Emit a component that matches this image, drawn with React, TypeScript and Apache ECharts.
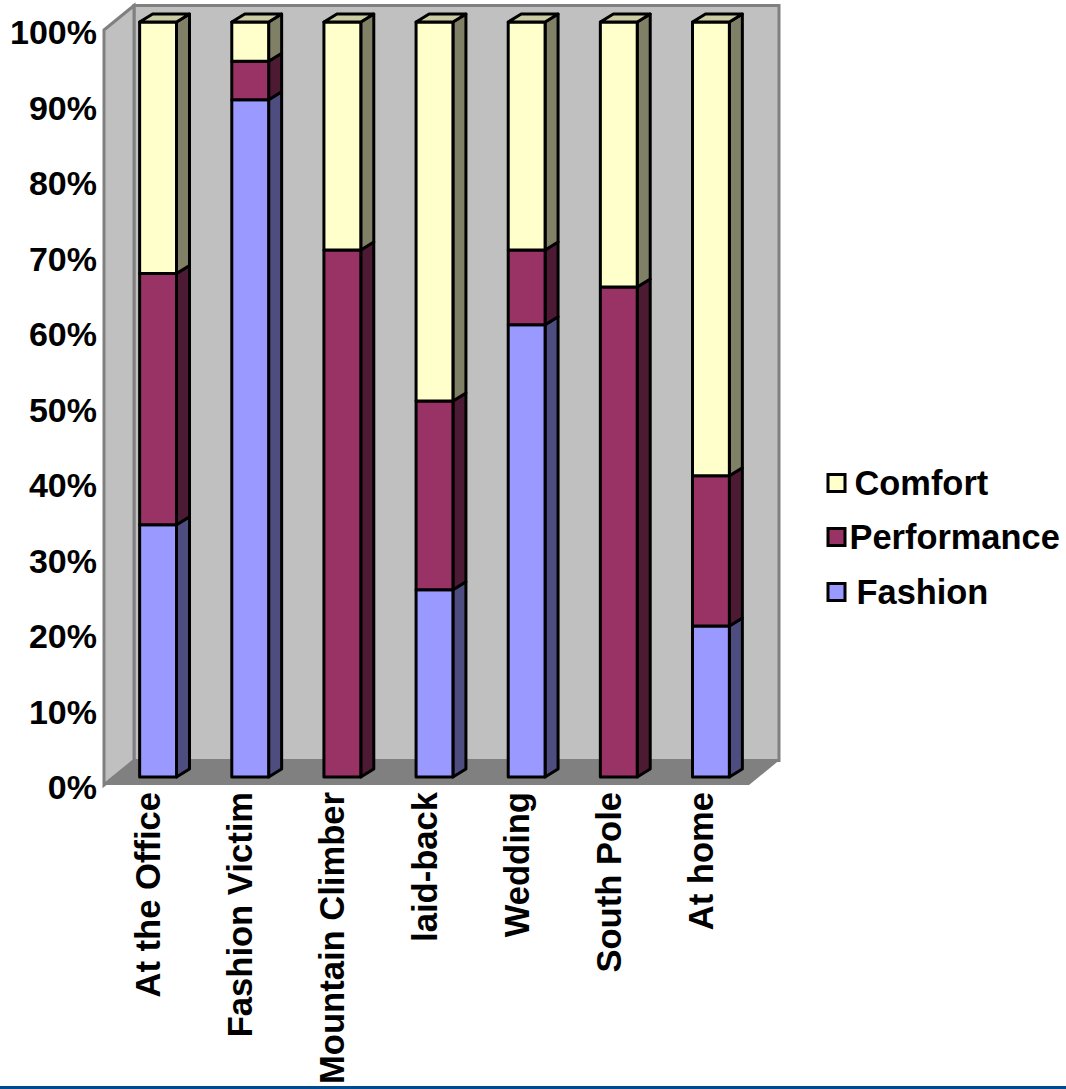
import React, { useEffect, useRef } from "react";
import * as echarts from "echarts";

const categories = ["At the Office", "Fashion Victim", "Mountain Climber", "laid-back", "Wedding", "South Pole", "At home"];
const fashionValues = [33.4, 89.7, 0, 24.8, 59.9, 0, 20];
const performanceValues = [33.3, 5.1, 69.8, 25, 9.9, 64.9, 19.9];
const comfortValues = [33.3, 5.2, 30.2, 50.2, 30.2, 35.1, 60.1];
const percentTicks = [0, 10, 20, 30, 40, 50, 60, 70, 80, 90, 100];

const FONT = '"Liberation Sans", Arial, sans-serif';
const WALL_DX = 30;
const WALL_DY = -24.5;
const BAR_SHIFT_X = 8;
const BAR_SHIFT_Y = -8;
const BAR_DX = 13;
const BAR_DY = -8;

// Room behind the bars: left wall, back wall and floor.
function renderRoom(params: any) {
  const { x, y, width: w, height: h } = params.coordSys;
  const wall = "#c0c0c0";
  const edge = "#808080";
  return {
    type: "group",
    children: [
      {
        type: "polygon",
        shape: { points: [[x + WALL_DX, y + WALL_DY], [x + w + WALL_DX, y + WALL_DY], [x + w + WALL_DX, y + h + WALL_DY], [x + WALL_DX, y + h + WALL_DY]] },
        style: { fill: wall, stroke: edge, lineWidth: 3 },
      },
      {
        type: "polygon",
        shape: { points: [[x, y], [x + WALL_DX, y + WALL_DY], [x + WALL_DX, y + h + WALL_DY], [x, y + h]] },
        style: { fill: wall, stroke: edge, lineWidth: 3 },
      },
      {
        type: "polygon",
        shape: { points: [[x, y + h], [x + WALL_DX, y + h + WALL_DY], [x + w + WALL_DX, y + h + WALL_DY], [x + w, y + h]] },
        style: { fill: edge },
      },
    ],
  };
}

// One stacked segment of a column: front face, shaded side, and a cap on the top segment.
function makeSegment(front: string, side: string, cap: string) {
  return (_params: any, api: any) => {
    const cat = api.value(0);
    const start = api.value(1);
    const end = api.value(2);
    if (end <= start) return null;
    const bottomPt = api.coord([cat, start]);
    const topPt = api.coord([cat, end]);
    const barW = api.size([1, 0])[0] * 0.4;
    const xl = bottomPt[0] + BAR_SHIFT_X - barW / 2;
    const xr = xl + barW;
    const yb = bottomPt[1] + BAR_SHIFT_Y;
    const yt = topPt[1] + BAR_SHIFT_Y;
    const line = { stroke: "#000", lineWidth: 3, lineJoin: "round" };
    const children: any[] = [
      {
        type: "polygon",
        shape: { points: [[xr, yt], [xr + BAR_DX, yt + BAR_DY], [xr + BAR_DX, yb + BAR_DY], [xr, yb]] },
        style: { fill: side, ...line },
      },
      {
        type: "polygon",
        shape: { points: [[xl, yt], [xr, yt], [xr, yb], [xl, yb]] },
        style: { fill: front, ...line },
      },
    ];
    if (end >= 99.9) {
      children.push({
        type: "polygon",
        shape: { points: [[xl, yt], [xl + BAR_DX, yt + BAR_DY], [xr + BAR_DX, yt + BAR_DY], [xr, yt]] },
        style: { fill: cap, ...line },
      });
    }
    return { type: "group", children };
  };
}

function stackData(values: number[], below: number[]) {
  return values.map((v, i) => [i, below[i], below[i] + v]);
}

const sumPairs = (a: number[], b: number[]) => a.map((v, i) => v + b[i]);

const labelText = { color: "#000", fontFamily: FONT, fontWeight: "bold", fontSize: 34 };

export default function App() {
  const ref = useRef<HTMLDivElement>(null);

  useEffect(() => {
    const chart = echarts.init(ref.current!, null, { renderer: "svg" });
    const zeros = categories.map(() => 0);
    const belowComfort = sumPairs(fashionValues, performanceValues);
    const segmentSeries = (name: string, color: string, side: string, cap: string, data: number[][], z: number) => ({
      type: "custom",
      name,
      coordinateSystem: "cartesian2d",
      renderItem: makeSegment(color, side, cap),
      encode: { x: 0, y: [1, 2] },
      data,
      z,
      clip: false,
      itemStyle: { color, borderColor: "#000", borderWidth: 3 },
    });
    const legendEntry = (name: string, top: number, gap: number) => ({
      data: [{ name, icon: "rect" }],
      left: 826.5,
      top,
      padding: 0,
      itemWidth: 17,
      itemHeight: 17,
      selectedMode: false,
      itemStyle: { borderColor: "#000", borderWidth: 3 },
      textStyle: { ...labelText, fontSize: 34.4, padding: [0, 0, 0, gap] },
    });
    chart.setOption({
      animation: false,
      backgroundColor: "#ffffff",
      grid: { left: 104, top: 30, width: 645, height: 755, containLabel: false, outerBoundsMode: "none" },
      xAxis: {
        type: "category",
        data: categories,
        axisLine: { show: false },
        axisTick: { show: false },
        axisLabel: {
          interval: 0,
          rotate: 90,
          margin: 7,
          formatter: (name: string) => `{a|${name}}`,
          rich: { a: { ...labelText, fontSize: 34.6, padding: [0, 0, 4, 0] } },
        },
      },
      yAxis: {
        type: "value",
        min: percentTicks[0],
        max: percentTicks[percentTicks.length - 1],
        interval: percentTicks[1] - percentTicks[0],
        axisLine: { show: false },
        axisTick: { show: false },
        splitLine: { show: false },
        axisLabel: {
          margin: 7,
          formatter: "{a|{value}%}",
          rich: { a: { ...labelText, padding: [4, 0, 0, 0] } },
        },
      },
      legend: [
        legendEntry("Comfort", 466, 4.5),
        legendEntry("Performance", 520, -0.5),
        legendEntry("Fashion", 575, 6.5),
      ],
      series: [
        {
          type: "custom",
          name: "Room",
          coordinateSystem: "cartesian2d",
          renderItem: renderRoom,
          data: [[0, 0]],
          encode: { x: 0, y: 1 },
          silent: true,
          z: 1,
          clip: false,
        },
        segmentSeries("Fashion", "#9999ff", "#4d4d80", "#ccccff", stackData(fashionValues, zeros), 2),
        segmentSeries("Performance", "#993366", "#4d1a33", "#cc99b3", stackData(performanceValues, fashionValues), 3),
        segmentSeries("Comfort", "#ffffcc", "#808066", "#cccca3", stackData(comfortValues, belowComfort), 4),
      ],
      graphic: [
        {
          type: "rect",
          shape: { x: 0, y: 1086, width: 1066, height: 3 },
          style: { fill: "#004b8d" },
          silent: true,
        },
      ],
    });
    return () => chart.dispose();
  }, []);

  return <div ref={ref} style={{ position: "absolute", left: 0, top: 0, width: 1066, height: 1089 }} />;
}
